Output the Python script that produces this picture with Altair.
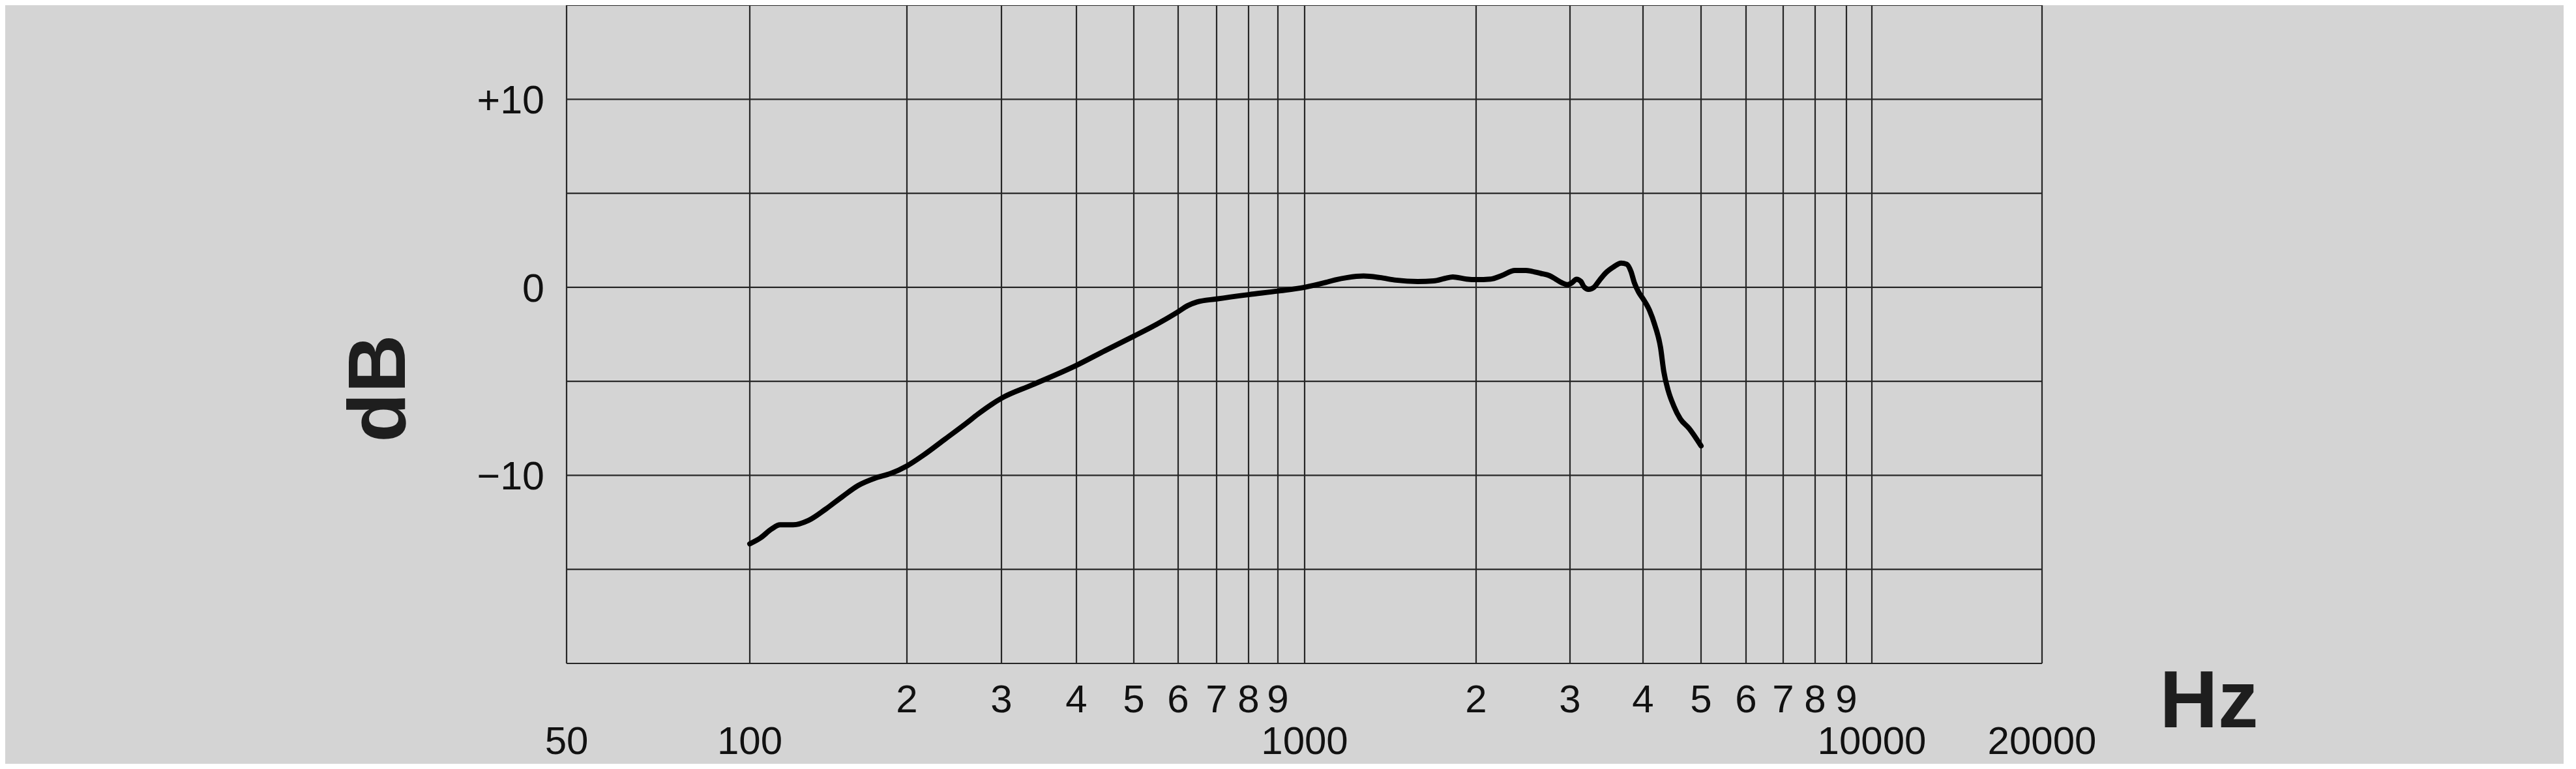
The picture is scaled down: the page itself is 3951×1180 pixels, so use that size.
import altair as alt
import pandas as pd

# ---- data ----
freq_hz = [100, 104.9, 110, 114.3, 121.1, 129.5, 139.7, 150.8, 161.3, 174.1, 186.2,
           200, 214.6, 235.6, 258.8, 271, 300, 337, 400, 447, 500, 549, 600, 623, 647,
           700, 800, 900, 1000, 1089, 1130, 1189, 1269, 1355, 1447, 1579, 1686, 1762,
           1820, 1923, 2000, 2130, 2232, 2365, 2478, 2546, 2644, 2746, 2822, 2902, 2972,
           3026, 3078, 3132, 3171, 3228, 3297, 3369, 3455, 3561, 3669, 3750, 3816, 3865,
           3932, 4000, 4103, 4190, 4279, 4332, 4407, 4501, 4616, 4774, 5000]
level_db = [-13.64, -13.32, -12.86, -12.63, -12.63, -12.4, -11.8, -11.11, -10.54, -10.14, -9.9,
            -9.5, -8.93, -8.07, -7.2, -6.75, -5.9, -5.2, -4.15, -3.37, -2.6, -1.97, -1.3, -0.98, -0.78,
            -0.62, -0.39, -0.2, 0.0, 0.26, 0.39, 0.52, 0.6, 0.52, 0.38, 0.31, 0.34, 0.47,
            0.55, 0.44, 0.41, 0.44, 0.62, 0.9, 0.9, 0.85, 0.74, 0.62, 0.43, 0.23, 0.14,
            0.25, 0.43, 0.31, 0.02, -0.11, 0.0, 0.37, 0.77, 1.08, 1.29, 1.23, 0.83, 0.25,
            -0.26, -0.61, -1.24, -2.05, -3.2, -4.46, -5.49, -6.3, -6.99, -7.5, -8.43]

x_grid = [50, 100, 200, 300, 400, 500, 600, 700, 800, 900, 1000,
          2000, 3000, 4000, 5000, 6000, 7000, 8000, 9000, 10000, 20000]
y_grid = [-20, -15, -10, -5, 0, 5, 10, 15]

minor_vals = [200, 300, 400, 500, 600, 700, 800, 900,
              2000, 3000, 4000, 5000, 6000, 7000, 8000, 9000]
minor_text = ["2", "3", "4", "5", "6", "7", "8", "9",
              "2", "3", "4", "5", "6", "7", "8", "9"]
major_vals = [50, 100, 1000, 10000, 20000]
major_text = ["50", "100", "1000", "10000", "20000"]
y_label_vals = [10, 0, -10]
y_label_text = ["+10", "0", "\u221210"]

# ---- layout ----
W, H = 2263, 1010
BG = "#d4d4d4"
GRID = "#262626"
FONT = "Liberation Sans"

# the printed chart's log grid is slightly irregular: piecewise log scale
# anchored on the reference's grid lines
grid_px = [0, 281, 522, 667, 782, 870, 938, 997, 1046, 1091, 1132,
           1395, 1539, 1651, 1740, 1809, 1866, 1915, 1963, 2002, 2263]
xscale = alt.Scale(type="log", domain=x_grid, range=grid_px, nice=False, zero=False)
yscale = alt.Scale(domain=[-20, 15], nice=False, zero=False)

curve = pd.DataFrame({"f": freq_hz, "db": level_db})
vgrid = pd.DataFrame({"f": x_grid})
hgrid = pd.DataFrame({"db": y_grid})
minor = pd.DataFrame({"f": minor_vals, "t": minor_text})
major = pd.DataFrame({"f": major_vals, "t": major_text})
ylab = pd.DataFrame({"db": y_label_vals, "t": y_label_text})

X = alt.X("f:Q", scale=xscale, axis=None)
Y = alt.Y("db:Q", scale=yscale, axis=None)

vlines = alt.Chart(vgrid).mark_rule(color=GRID, strokeWidth=2.2).encode(
    x=X, y=alt.value(0), y2=alt.value(H))
hlines = alt.Chart(hgrid).mark_rule(color=GRID, strokeWidth=2.2).encode(
    y=Y, x=alt.value(0), x2=alt.value(W))

line = alt.Chart(curve).mark_line(color="#000000", strokeWidth=8,
                                  interpolate="monotone", strokeCap="round",
                                  strokeJoin="round").encode(x=X, y=Y)

minor_lab = alt.Chart(minor).mark_text(font=FONT, fontSize=60, color="#111111",
                                       align="center", baseline="alphabetic").encode(
    x=X, y=alt.value(1085), text="t:N")
major_lab = alt.Chart(major).mark_text(font=FONT, fontSize=60, color="#111111",
                                       align="center", baseline="alphabetic").encode(
    x=X, y=alt.value(1149), text="t:N")
y_lab = alt.Chart(ylab).mark_text(font=FONT, fontSize=61, color="#111111",
                                  align="right", baseline="alphabetic", dy=22).encode(
    y=Y, x=alt.value(-34), text="t:N")

db_title = alt.Chart(pd.DataFrame({"t": ["dB"]})).mark_text(
    font=FONT, fontSize=124, fontWeight="bold", color="#1e1e1e", angle=270,
    align="center", baseline="alphabetic").encode(
    x=alt.value(-248), y=alt.value(588), text="t:N")
hz_title = alt.Chart(pd.DataFrame({"t": ["Hz"]})).mark_text(
    font=FONT, fontSize=124, fontWeight="bold", color="#1e1e1e",
    align="center", baseline="alphabetic").encode(
    x=alt.value(2519), y=alt.value(1108), text="t:N")

chart = alt.layer(vlines, hlines, line, minor_lab, major_lab, y_lab, db_title, hz_title).properties(
    width=W, height=H,
    autosize=alt.AutoSizeParams(type="none"),
    padding={"left": 861, "top": 0, "right": 800, "bottom": 154},
).configure(background=BG).configure_view(stroke=None)

chart.save("out.html", embed_options={"renderer": "svg", "actions": False})
